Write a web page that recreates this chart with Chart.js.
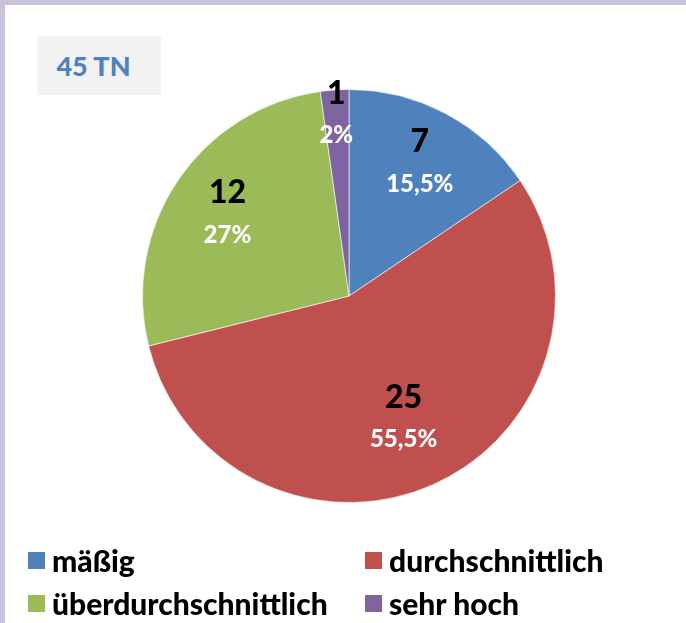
<!DOCTYPE html>
<html>
<head>
<meta charset="utf-8">
<script src="https://cdn.jsdelivr.net/npm/chart.js@4"></script>
<style>
  html, body { margin:0; padding:0; background:#fff; }
  #wrap { position:relative; width:686px; height:623px; overflow:hidden; font-family: Lato, "Open Sans", sans-serif; }
  #topb { position:absolute; left:0; top:0; width:686px; height:5px; background:#ccc1da; }
  #leftb { position:absolute; left:0; top:0; width:5px; height:623px; background:#ccc1da; }
  #title { position:absolute; left:37px; top:36px; width:113px; padding-right:11px; height:59px; background:#f2f2f2;
           color:#4f81bd; font-weight:900; font-size:27px; line-height:59px; text-align:center; }
  canvas { position:absolute; left:0; top:0; }
  .lg { position:absolute; display:flex; align-items:center; font-weight:900; font-size:30px; color:#000; white-space:nowrap; }
  .lg span.sw { display:inline-block; width:17px; height:17px; margin-right:7px; }
</style>
</head>
<body>
<div id="wrap">
  <canvas id="c" width="686" height="623"></canvas>
  <div id="topb"></div>
  <div id="leftb"></div>
  <div id="title">45 TN</div>
</div>
<script>
const categories = ["mäßig", "durchschnittlich", "überdurchschnittlich", "sehr hoch"];
const values = [7, 25, 12, 1];
const pctLabels = ["15,5%", "55,5%", "27%", "2%"];
const colors = ["#4f81bd", "#c0504d", "#9bbb59", "#8064a2"];
const titleText = "45 TN";

document.getElementById('title').textContent = titleText;

// legend positions (2 columns)
const legendPos = [[28, 560], [365, 560], [28, 603], [365, 603]];
categories.forEach((c, i) => {
  const d = document.createElement('div');
  d.className = 'lg';
  d.style.left = legendPos[i][0] + 'px';
  d.style.top = (legendPos[i][1] - 18) + 'px';
  d.style.height = '36px';
  d.innerHTML = '<span class="sw" style="background:' + colors[i] + '"></span>';
  d.appendChild(document.createTextNode(c));
  document.getElementById('wrap').appendChild(d);
});

const labelRadius = [0.73, 0.65, 0.71, 0.88];

const labelPlugin = {
  id: 'sliceLabels',
  afterDatasetsDraw(chart) {
    const ctx = chart.ctx;
    const meta = chart.getDatasetMeta(0);
    meta.data.forEach((arc, i) => {
      const mid = (arc.startAngle + arc.endAngle) / 2;
      const r = arc.outerRadius * labelRadius[i];
      const x = arc.x + Math.cos(mid) * r;
      const y = arc.y + Math.sin(mid) * r;
      ctx.save();
      ctx.textAlign = 'center';
      ctx.textBaseline = 'middle';
      ctx.fillStyle = '#000';
      ctx.font = '900 32px Lato, "Open Sans", sans-serif';
      ctx.fillText(String(chart.data.datasets[0].data[i]), x, y - 21);
      ctx.fillStyle = '#fff';
      ctx.font = '900 24px Lato, "Open Sans", sans-serif';
      ctx.fillText(pctLabels[i], x, y + 21);
      ctx.restore();
    });
  }
};

new Chart(document.getElementById('c'), {
  type: 'pie',
  data: {
    labels: categories,
    datasets: [{
      data: values,
      backgroundColor: colors,
      borderColor: 'rgba(255,255,255,0.6)',
      borderWidth: 1
    }]
  },
  options: {
    responsive: false,
    animation: false,
    layout: { padding: { top: 89, bottom: 120, left: 142, right: 130 } },
    plugins: { legend: { display: false }, tooltip: { enabled: false } }
  },
  plugins: [labelPlugin]
});
</script>
</body>
</html>
